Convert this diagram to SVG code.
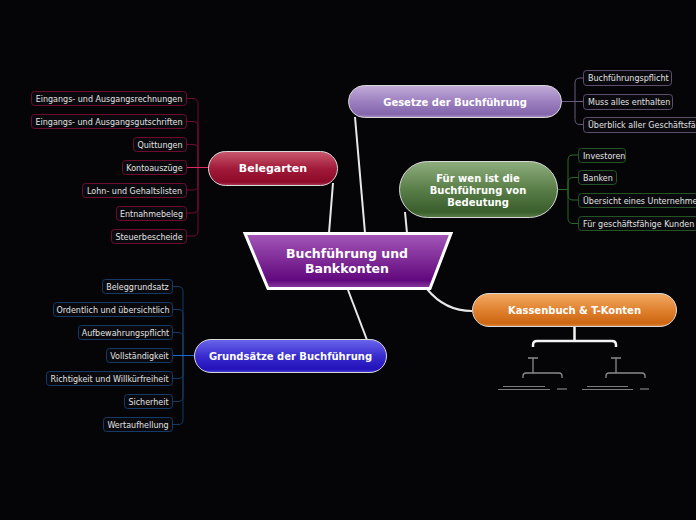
<svg xmlns="http://www.w3.org/2000/svg" width="696" height="520" viewBox="0 0 696 520">
<defs>
<linearGradient id="gCen" x1="0" y1="0" x2="0" y2="1"><stop offset="0" stop-color="#a458b8"/><stop offset="0.85" stop-color="#62087e"/><stop offset="1" stop-color="#8a40a0"/></linearGradient>
<linearGradient id="gBel" x1="0" y1="0" x2="0" y2="1"><stop offset="0" stop-color="#c85a6e"/><stop offset="0.5" stop-color="#a21a3a"/><stop offset="0.9" stop-color="#8c0a28"/><stop offset="1" stop-color="#b04060"/></linearGradient>
<linearGradient id="gGes" x1="0" y1="0" x2="0" y2="1"><stop offset="0" stop-color="#c2acd8"/><stop offset="0.5" stop-color="#9c80c0"/><stop offset="0.9" stop-color="#8466ac"/><stop offset="1" stop-color="#a890c8"/></linearGradient>
<linearGradient id="gFur" x1="0" y1="0" x2="0" y2="1"><stop offset="0" stop-color="#8eae7e"/><stop offset="0.5" stop-color="#5a7e48"/><stop offset="0.9" stop-color="#3a5e2c"/><stop offset="1" stop-color="#5a7e4a"/></linearGradient>
<linearGradient id="gGru" x1="0" y1="0" x2="0" y2="1"><stop offset="0" stop-color="#6a66ea"/><stop offset="0.5" stop-color="#3a2cd0"/><stop offset="0.9" stop-color="#2212b8"/><stop offset="1" stop-color="#4a40d8"/></linearGradient>
<linearGradient id="gKas" x1="0" y1="0" x2="0" y2="1"><stop offset="0" stop-color="#f2aa64"/><stop offset="0.5" stop-color="#e08230"/><stop offset="0.9" stop-color="#cc6612"/><stop offset="1" stop-color="#e08a40"/></linearGradient>
<style>
.pill{stroke:#d8d8d8;stroke-width:1}
.title{font-family:"DejaVu Sans",Verdana,sans-serif;font-weight:bold;font-size:10px;fill:#ffffff;text-anchor:middle}
.leaf{fill:#0a0a0e;stroke-width:1}
.lt{font-family:"DejaVu Sans",Verdana,sans-serif;font-size:8px;fill:#e2e2e2}
.lm{text-anchor:middle}
.ls{text-anchor:start}
.bel{stroke:#6e0c2e}
.ges{stroke:#5e4e6e}
.fur{stroke:#245424}
.gru{stroke:#163a66}
.c{fill:none;stroke-width:1}
.main{fill:none;stroke:#e8e8e8;stroke-width:2}
</style>
</defs>
<rect width="696" height="520" fill="#050507"/>

<g id="connectors">
<path class="main" d="M333,183 L329,233"/>
<path class="main" d="M355,117 Q360,175 365,233"/>
<path class="main" d="M405,212 L407,233"/>
<path class="main" d="M348,290 L367,340"/>
<path class="main" d="M427,289 Q445,311 472,311" stroke="#d0d0d0" stroke-width="1.2"/>
<g class="c" stroke="#6e0c2e">
<path d="M198,168 V103.5 Q198,98.5 193,98.5 H187"/>
<path d="M198,168 V126.5 Q198,121.5 193,121.5 H187"/>
<path d="M198,168 V149.5 Q198,144.5 193,144.5 H187"/>
<path d="M198,168 V185 Q198,190 193,190 H187"/>
<path d="M198,168 V208 Q198,213 193,213 H187"/>
<path d="M198,168 V231 Q198,236 193,236 H187"/>
</g>
<path class="c" stroke="#e02a66" d="M208,167.5 H187"/>
<g class="c" stroke="#6a5a7e">
<path d="M562,101.5 H583"/>
<path d="M575,101.5 V83 Q575,78 580,78 H583"/>
<path d="M575,101.5 V119.5 Q575,124.5 580,124.5 H583"/>
</g>
<g class="c" stroke="#2a6a2a">
<path d="M558,189.5 H568"/>
<path d="M568,189.5 V160 Q568,155 573,155 H578"/>
<path d="M568,189.5 V182.5 Q568,177.5 573,177.5 H578"/>
<path d="M568,189.5 V195 Q568,200 573,200 H578"/>
<path d="M568,189.5 V218.5 Q568,223.5 573,223.5 H578"/>
</g>
<g class="c" stroke="#163a66">
<path d="M183,355.5 V291.5 Q183,286.5 178,286.5 H173"/>
<path d="M183,355.5 V314.5 Q183,309.5 178,309.5 H173"/>
<path d="M183,355.5 V337.5 Q183,332.5 178,332.5 H173"/>
<path d="M183,355.5 V373.5 Q183,378.5 178,378.5 H173"/>
<path d="M183,355.5 V396.5 Q183,401.5 178,401.5 H173"/>
<path d="M183,355.5 V419.5 Q183,424.5 178,424.5 H173"/>
</g>
<path class="c" stroke="#1a6ad4" d="M194,355.5 H173"/>
<path fill="none" stroke="#f4f4f4" stroke-width="2.5" d="M574.5,327 V341 M533,347 V345 Q533,341 537,341 H612 Q616,341 616,345 V347"/>
</g>

<g id="t-konten">
<g fill="none" stroke="#8a8a8a" stroke-width="1.3">
<path d="M528,358 H538 M533,358 V373 M523,378 V376 Q523,373 526,373 H559 Q562,373 562,376 V378"/>
<path d="M611,358 H621 M616,358 V373 M606,378 V376 Q606,373 609,373 H642 Q645,373 645,376 V378"/>
</g>
<g fill="none" stroke="#9a9a9a" stroke-width="0.8">
<path d="M503,386.5 H545 M498,389.5 H550"/>
<path d="M587,386.5 H628 M582,389.5 H633"/>
</g>
<g fill="none" stroke="#6a6a6a" stroke-width="1.6">
<path d="M557,389 H567 M640,389 H649"/>
</g>
</g>

<g id="central">
<polygon points="245,233.5 451,233.5 430,288.5 268,288.5" fill="url(#gCen)" stroke="#ffffff" stroke-width="3" stroke-linejoin="miter"/>
<text class="title" x="347" y="258" style="font-size:12.5px">Buchführung und</text>
<text class="title" x="347" y="273" style="font-size:12.5px">Bankkonten</text>
</g>

<g id="belegarten">
<rect class="pill" x="208.5" y="151.5" width="129" height="34" rx="17" fill="url(#gBel)"/>
<text class="title" x="273" y="172" style="font-size:11px">Belegarten</text>
</g>
<g id="belegarten-leaves">
<rect class="leaf bel" x="31.5" y="91.5" width="155" height="14" rx="3"/><text class="lt lm" x="109" y="101.5">Eingangs- und Ausgangsrechnungen</text>
<rect class="leaf bel" x="31.5" y="114.5" width="155" height="14" rx="3"/><text class="lt lm" x="109" y="124.5">Eingangs- und Ausgangsgutschriften</text>
<rect class="leaf bel" x="133.5" y="137.5" width="53" height="14" rx="3"/><text class="lt lm" x="160" y="147.5">Quittungen</text>
<rect class="leaf bel" x="122.5" y="160.5" width="64" height="14" rx="3"/><text class="lt lm" x="154.5" y="170.5">Kontoauszüge</text>
<rect class="leaf bel" x="82.5" y="183.5" width="104" height="14" rx="3"/><text class="lt lm" x="134.5" y="193.5">Lohn- und Gehaltslisten</text>
<rect class="leaf bel" x="116.5" y="206.5" width="70" height="14" rx="3"/><text class="lt lm" x="151.5" y="216.5">Entnahmebeleg</text>
<rect class="leaf bel" x="111.5" y="229.5" width="75" height="14" rx="3"/><text class="lt lm" x="149" y="239.5">Steuerbescheide</text>
</g>

<g id="gesetze">
<rect class="pill" x="348.5" y="85.5" width="213" height="32" rx="16" fill="url(#gGes)"/>
<text class="title" x="455" y="105.5">Gesetze der Buchführung</text>
</g>
<g id="gesetze-leaves">
<rect class="leaf ges" x="583.5" y="70.5" width="88" height="15" rx="3"/><text class="lt ls" x="588" y="81">Buchführungspflicht</text>
<rect class="leaf ges" x="583.5" y="94.5" width="89" height="15" rx="3"/><text class="lt ls" x="588" y="105">Muss alles enthalten</text>
<rect class="leaf ges" x="583.5" y="117.5" width="130" height="15" rx="3"/><text class="lt ls" x="588" y="128">Überblick aller Geschäftsfälle</text>
</g>

<g id="fuer-wen">
<rect class="pill" x="399.5" y="161.5" width="158" height="56" rx="28" fill="url(#gFur)"/>
<text class="title" x="478" y="182">Für wen ist die</text>
<text class="title" x="478" y="194">Buchführung von</text>
<text class="title" x="478" y="206">Bedeutung</text>
</g>
<g id="fuer-wen-leaves">
<rect class="leaf fur" x="578.5" y="148.5" width="47" height="14" rx="3"/><text class="lt ls" x="583" y="158.5">Investoren</text>
<rect class="leaf fur" x="578.5" y="170.5" width="38" height="14" rx="3"/><text class="lt ls" x="583" y="180.5">Banken</text>
<rect class="leaf fur" x="578.5" y="193.5" width="140" height="14" rx="3"/><text class="lt ls" x="583" y="203.5">Übersicht eines Unternehmens</text>
<rect class="leaf fur" x="578.5" y="216.5" width="125" height="14" rx="3"/><text class="lt ls" x="583" y="226.5">Für geschäftsfähige Kunden</text>
</g>

<g id="grundsaetze">
<rect class="pill" x="194.5" y="339.5" width="192" height="33" rx="16.5" fill="url(#gGru)"/>
<text class="title" x="290.5" y="359.5">Grundsätze der Buchführung</text>
</g>
<g id="grundsaetze-leaves">
<rect class="leaf gru" x="102.5" y="279.5" width="70" height="14" rx="3"/><text class="lt lm" x="137.5" y="289.5">Beleggrundsatz</text>
<rect class="leaf gru" x="53.5" y="302.5" width="119" height="14" rx="3"/><text class="lt lm" x="113" y="312.5">Ordentlich und übersichtlich</text>
<rect class="leaf gru" x="78.5" y="325.5" width="94" height="14" rx="3"/><text class="lt lm" x="125.5" y="335.5">Aufbewahrungspflicht</text>
<rect class="leaf gru" x="106.5" y="348.5" width="66" height="14" rx="3"/><text class="lt lm" x="139.5" y="358.5">Vollständigkeit</text>
<rect class="leaf gru" x="46.5" y="371.5" width="126" height="14" rx="3"/><text class="lt lm" x="109.5" y="381.5">Richtigkeit und Willkürfreiheit</text>
<rect class="leaf gru" x="124.5" y="394.5" width="48" height="14" rx="3"/><text class="lt lm" x="148.5" y="404.5">Sicherheit</text>
<rect class="leaf gru" x="103.5" y="417.5" width="69" height="14" rx="3"/><text class="lt lm" x="138" y="427.5">Wertaufhellung</text>
</g>

<g id="kassenbuch">
<rect class="pill" x="472.5" y="293.5" width="204" height="33" rx="16.5" fill="url(#gKas)"/>
<text class="title" x="574.5" y="313.5">Kassenbuch &amp; T-Konten</text>
</g>
</svg>
